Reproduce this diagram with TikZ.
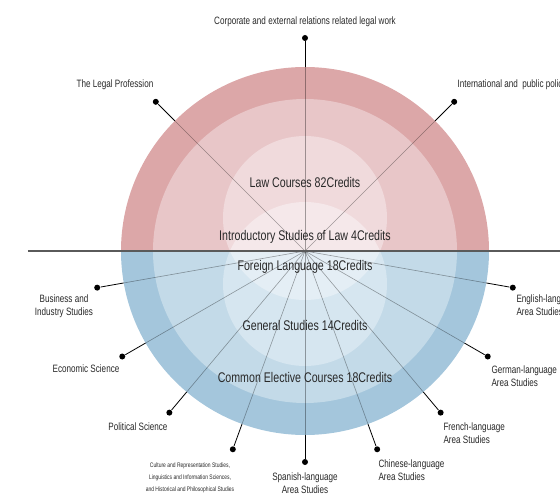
\documentclass[tikz,border=0pt]{standalone}
\usepackage{fontspec}
\setmainfont{Liberation Sans}[FakeStretch=0.76]

\definecolor{lawout}{RGB}{220,167,168}
\definecolor{lawmid}{RGB}{232,198,200}
\definecolor{lawin}{RGB}{240,218,220}
\definecolor{lawcore}{RGB}{245,232,234}
\definecolor{genout}{RGB}{164,198,220}
\definecolor{genmid}{RGB}{195,218,232}
\definecolor{genin}{RGB}{214,230,240}
\definecolor{gencore}{RGB}{228,238,245}
\definecolor{axisgray}{RGB}{90,90,90}
\definecolor{ink}{RGB}{40,40,40}

\tikzset{every picture/.style={line width=0.75pt}}
\tikzset{
  dot/.style={circle, fill=black, inner sep=0pt, minimum size=4.5pt},
  ray/.style={line width=0.6pt, black},
  rayin/.style={line width=0.45pt, black, opacity=0.35},
  axisline/.style={line width=0.9pt, axisgray},
  lbl/.style={font=\fontsize{8}{9.75}\selectfont, inner sep=0pt, text=ink},
  tiny/.style={font=\fontsize{4.9}{9}\selectfont, inner sep=0pt, text=ink, align=center},
  core/.style={font=\fontsize{10.5}{12}\selectfont, inner sep=0pt, text=ink}
}

\begin{document}
\begin{tikzpicture}[x=0.75pt,y=0.75pt]
\useasboundingbox (-305,-242) rectangle (255,251);
\coordinate (c) at (0,0);

% Dots
\node[dot] (corp) at (90:213) {};
\node[dot] (legal) at (135:211) {};
\node[dot] (intl) at (45:211) {};
\node[dot] (biz) at (-170:211) {};
\node[dot] (econ) at (-150:211) {};
\node[dot] (pol) at (-130:211) {};
\node[dot] (cult) at (-110:211) {};
\node[dot] (span) at (-90:211) {};
\node[dot] (chin) at (-70:211) {};
\node[dot] (fren) at (-50:211) {};
\node[dot] (germ) at (-30:211) {};
\node[dot] (engl) at (-10:211) {};

%Straight Lines
\foreach \d in {corp,legal,intl,biz,econ,pol,cult,span,chin,fren,germ,engl}
  \draw[ray] (c) -- (\d);

%Shape: upper half (law)
\begin{scope}
\clip (-184,0) rectangle (184,184);
\fill[lawout] (c) circle (184);
\fill[lawmid] (c) circle (152);
\fill[lawin] (0,33) circle (82);
\fill[lawcore] (0,-33) circle (82);
\end{scope}

%Shape: lower half (general)
\begin{scope}
\clip (-184,-184) rectangle (184,0);
\fill[genout] (c) circle (184);
\fill[genmid] (c) circle (152);
\fill[genin] (0,-33) circle (82);
\fill[gencore] (0,33) circle (82);
\end{scope}

%Straight Lines inside the circle
\begin{scope}
\clip (c) circle (184);
\foreach \d in {corp,legal,intl,biz,econ,pol,cult,span,chin,fren,germ,engl}
  \draw[rayin] (c) -- (\d);
\end{scope}

%Straight Lines: divider
\coordinate (axl) at (-277,0);
\coordinate (axr) at (255,0);
\draw[axisline] (axl) -- (axr);

% Text Node
\node[core] (lawc) at (0,69) {Law Courses 82Credits};
% Text Node
\node[core] (intro) at (0,14) {Introductory Studies of Law 4Credits};
% Text Node
\node[core] (forl) at (0,-16) {Foreign Language 18Credits};
% Text Node
\node[core] (gens) at (0,-74) {General Studies 14Credits};
% Text Node
\node[core] (comm) at (0,-126) {Common Elective Courses 18Credits};

% Text Node
\node[lbl] (corpt) at (0,229) {Corporate and external relations related legal work};
% Text Node
\node[lbl] (legalt) at (-190,166) {The Legal Profession};
% Text Node
\node[lbl, anchor=west] (intlt) at (152,166) {International and\ \ public policy};
% Text Node
\node[lbl, align=center] (bizt) at (-241,-55) {Business and\\Industry Studies};
% Text Node
\node[lbl] (econt) at (-219,-118) {Economic Science};
% Text Node
\node[lbl] (polt) at (-167,-176) {Political Science};
% Text Node
\node[tiny] (cultt) at (-115,-227) {Culture and Representation Studies,\\Linguistics and Information Sciences,\\and Historical and Philosophical Studies};
% Text Node
\node[lbl, align=center] (spant) at (0,-232) {Spanish-language\\Area Studies};
% Text Node
\node[lbl, align=left, anchor=west] (chint) at (73,-219) {Chinese-language\\Area Studies};
% Text Node
\node[lbl, align=left, anchor=west] (frent) at (138,-182) {French-language\\Area Studies};
% Text Node
\node[lbl, align=left, anchor=west] (germt) at (186,-125) {German-language\\Area Studies};
% Text Node
\node[lbl, align=left, anchor=west] (englt) at (211,-54) {English-language\\Area Studies};

\end{tikzpicture}
\end{document}
